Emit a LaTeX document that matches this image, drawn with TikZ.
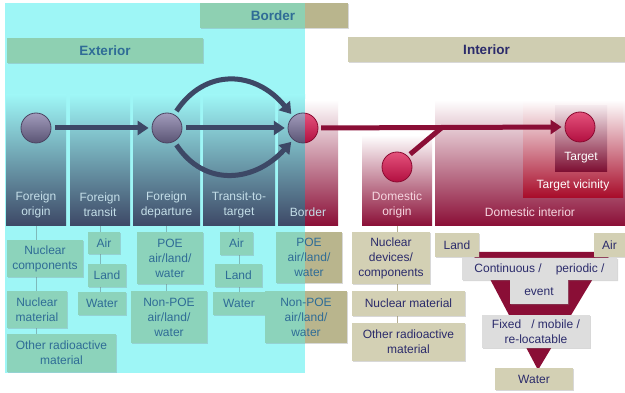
\documentclass[tikz,border=0pt]{standalone}
\usepackage{fontspec}
\setmainfont{Liberation Sans}
\usetikzlibrary{arrows.meta,shadows}
\definecolor{cyanbg}{HTML}{9EF6F6}
\definecolor{hdrteal}{HTML}{8ED0B2}
\definecolor{hdrkhaki}{HTML}{CFCDB1}
\definecolor{brdkhaki}{HTML}{B9B58D}
\definecolor{slate}{HTML}{3D4866}
\definecolor{wine}{HTML}{8A0E36}
\definecolor{tealbox}{HTML}{8CD3BB}
\definecolor{tealtext}{HTML}{2F6C96}
\definecolor{khakibox}{HTML}{D3D0B4}
\definecolor{navytext}{HTML}{2B2B6B}
\definecolor{greybox}{HTML}{DDDDDD}
\definecolor{coltext}{HTML}{C4DEE8}
\definecolor{redtext}{HTML}{F6D6E0}
\definecolor{treeline}{HTML}{7FB9BA}
\definecolor{treeline2}{HTML}{B5AE92}
\definecolor{slatetop}{HTML}{A29CBC}
\definecolor{slatebot}{HTML}{5A5474}
\definecolor{ballrim}{HTML}{4B4462}
\definecolor{redtop}{HTML}{E4527C}
\definecolor{redbot}{HTML}{B20F40}
\definecolor{redrim}{HTML}{8A0A30}
\begin{document}
\begin{tikzpicture}[x=1pt,y=-1pt,
  shd/.style={drop shadow={shadow xshift=1.2pt,shadow yshift=-1.2pt,opacity=0.3,fill=black!50}},
  lbl/.style={font=\fontsize{12}{15}\selectfont, align=center, inner sep=0pt},
  hdr/.style={font=\fontsize{13.5}{16}\selectfont\bfseries, inner sep=0pt},
  tbox/.style={lbl, fill=tealbox, text=tealtext, shd},
  kbox/.style={lbl, fill=khakibox, text=navytext, shd},
  gtext/.style={lbl, text=navytext},
  slatecol/.style={draw=none, inner sep=0pt, top color=cyanbg, middle color=slate!30!cyanbg, bottom color=slate},
  redcol/.style={draw=none, inner sep=0pt, top color=white, middle color=wine!35!white, bottom color=wine},
  coltxt/.style={lbl, text=coltext},
  redtxt/.style={lbl, text=redtext},
  ball/.style={circle, minimum size=30pt, inner sep=0pt},
  sball/.style={ball, top color=slatetop, bottom color=slatebot, draw=ballrim, line width=0.8pt},
  rball/.style={ball, top color=redtop, bottom color=redbot, draw=redrim, line width=0.8pt},
  sarrow/.style={draw=slate, line width=5pt, -{Triangle[length=11pt,width=14pt]}, shorten <=4pt, shorten >=3pt},
  rarrow/.style={draw=wine, line width=5pt, -{Triangle[length=11pt,width=14pt]}, shorten <=3pt, shorten >=3pt},
  tline/.style={draw=treeline, line width=0.8pt},
  tline2/.style={draw=treeline2, line width=0.8pt}
]
\useasboundingbox (0,0) rectangle (625,393);
\fill[white] (0,0) rectangle (625,393);
% cyan exterior background
\fill[cyanbg] (5,3) rectangle (305,373);

% headers
\fill[hdrteal,shd] (200,3) rectangle (348,28);
\fill[brdkhaki] (305,3) rectangle (348,28);
\node[hdr, text=tealtext] (hBorder) at (273,15.5) {Border};
\node[hdr, fill=hdrteal, text=tealtext, minimum width=196pt, minimum height=25pt, shd] (hExt) at (105,50.5) {Exterior};
\node[hdr, fill=hdrkhaki, text=navytext, minimum width=277pt, minimum height=25pt, shd] (hInt) at (486.5,49.5) {Interior};

% columns
\node[slatecol, minimum width=60pt, minimum height=131pt] (cFO) at (36,160.5) {};
\node[slatecol, minimum width=60pt, minimum height=131pt] (cFT) at (100,160.5) {};
\node[slatecol, minimum width=67pt, minimum height=131pt] (cFD) at (166.5,160.5) {};
\node[slatecol, minimum width=72pt, minimum height=131pt] (cTT) at (239,160.5) {};
\node[slatecol, minimum width=27pt, minimum height=131pt] (cBL) at (291.5,160.5) {};
\node[redcol, minimum width=33pt, minimum height=126pt] (cBR) at (321.5,163) {};
\node[redcol, minimum width=70pt, minimum height=91pt] (cDO) at (397,180.5) {};
\node[redcol, minimum width=190pt, minimum height=126pt] (cDI) at (530,163) {};
\node[draw=none, inner sep=0pt, top color=white, middle color=wine!45!white, bottom color=wine!75!red, minimum width=100pt, minimum height=98pt] (cTV) at (573,149) {};
\node[draw=none, inner sep=0pt, top color=wine!10!white, middle color=wine!65!white, bottom color=wine!90!black, minimum width=52pt, minimum height=66pt] (cTG) at (581,139) {};

% column labels
\node[coltxt] (lFO) at (36,205) {Foreign\\origin};
\node[coltxt] (lFT) at (100,205) {Foreign\\transit};
\node[coltxt] (lFD) at (166.5,205) {Foreign\\departure};
\node[coltxt] (lTT) at (239,205) {Transit-to-\\target};
\node[coltxt] (lBD) at (308,212) {Border};
\node[redtxt] (lDO) at (397,205) {Domestic\\origin};
\node[redtxt] (lDI) at (530,212) {Domestic interior};
\node[lbl, text=white] (lTV) at (573,185) {Target vicinity};
\node[lbl, text=white] (lTG) at (581,158) {Target};

% balls
\node[sball] (fo) at (36,128) {};
\node[sball] (fd) at (167,128) {};
\node[ball] (bd) at (303,128) {};
\begin{scope}
  \clip (280,105) rectangle (305,150);
  \shade[top color=slatetop, bottom color=slatebot] (bd.center) circle (15);
  \draw[ballrim, line width=0.8pt] (bd.center) circle (15);
\end{scope}
\begin{scope}
  \clip (305,105) rectangle (330,150);
  \shade[top color=redtop, bottom color=redbot] (bd.center) circle (15);
  \draw[redrim, line width=0.8pt] (bd.center) circle (15);
\end{scope}
\node[rball] (do) at (397,167) {};
\node[rball] (tg) at (580,127) {};
\coordinate (j) at (442,127.5);

% arrows
\draw[sarrow] (fo.east) -- (fd.west);
\draw[sarrow] (fd.east) -- (bd.west);
\draw[sarrow] (fd.62) .. controls (205,68) and (255,70) .. (bd.130);
\draw[sarrow] (fd.-62) .. controls (205,188) and (255,182) .. (bd.-130);
\draw[rarrow] (bd.east) -- (tg.west);
\draw[draw=wine, line width=5pt, shorten <=3pt] (do.45) -- (j);

% exterior trees
\draw[tline] (cFO.south) -- (cFO.south |- 0,334);
\draw[tline] (cFT.south) -- (cFT.south |- 0,292);
\draw[tline] (cFD.south) -- (cFD.south |- 0,291);
\draw[tline] (cTT.south) -- (cTT.south |- 0,292);
\draw[tline2] (cDO.south) -- (cDO.south |- 0,324);

\node[tbox, minimum width=76pt, minimum height=37pt] (fo1) at (45,258.5) {Nuclear\\components};
\node[tbox, minimum width=60pt, minimum height=37pt] (fo2) at (37,309.5) {Nuclear\\material};
\node[tbox, minimum width=109pt, minimum height=38pt] (fo3) at (61.5,353) {Other radioactive\\material};

\node[tbox, minimum width=32pt, minimum height=22pt] (ft1) at (104,243) {Air};
\node[tbox, minimum width=38pt, minimum height=23pt] (ft2) at (107,275.5) {Land};
\node[tbox, minimum width=48pt, minimum height=23pt] (ft3) at (102,303.5) {Water};

\node[tbox, minimum width=66pt, minimum height=52pt] (fd1) at (170,258) {POE\\air/land/\\water};
\node[tbox, minimum width=76pt, minimum height=52pt] (fd2) at (169,317) {Non-POE\\air/land/\\water};

\node[tbox, minimum width=33pt, minimum height=23pt] (tt1) at (236.5,243.5) {Air};
\node[tbox, minimum width=47pt, minimum height=23pt] (tt2) at (238.5,275.5) {Land};
\node[tbox, minimum width=52pt, minimum height=23pt] (tt3) at (239,303.5) {Water};

% border boxes (split colour)
\fill[tealbox,shd] (276,232) rectangle (342,283);
\fill[brdkhaki] (305,232) rectangle (342,283);
\fill[tealbox,shd] (265,291) rectangle (347,343);
\fill[brdkhaki] (305,291) rectangle (347,343);
\node[lbl, text=tealtext] (bd1) at (309,257.5) {POE\\air/land/\\water};
\node[lbl, text=tealtext] (bd2) at (306,317) {Non-POE\\air/land/\\water};

% domestic origin tree
\node[kbox, minimum width=78pt, minimum height=52pt] (do1) at (391,258) {Nuclear\\devices/\\components};
\node[kbox, minimum width=113pt, minimum height=25pt] (do2) at (408.5,303.5) {Nuclear material};
\node[kbox, minimum width=113pt, minimum height=38pt] (do3) at (408.5,342) {Other radioactive\\material};

% funnel
\fill[wine] (467,252) -- (615,252) -- (603,262) -- (538,370) -- (481,262) -- cycle;
\node[kbox, minimum width=44pt, minimum height=24pt] (di1) at (457,245) {Land};
\node[kbox, minimum width=31pt, minimum height=24pt] (di2) at (609.5,245) {Air};
\fill[greybox,shd] (462,258) -- (617,258) -- (617,280) -- (568,280) -- (568,304) -- (510,304) -- (510,280) -- (462,280) -- cycle;
\node[gtext] (di3) at (539.5,269) {Continuous /\hspace{14pt}periodic /};
\node[gtext] (di4) at (539,292) {event};
\node[lbl, fill=greybox, text=navytext, shd, minimum width=108pt, minimum height=33pt] (di5) at (536,331.5) {Fixed\hspace{10pt}/ mobile /\\re-locatable};
\node[kbox, minimum width=78pt, minimum height=22pt] (di6) at (534,379) {Water};
\end{tikzpicture}
\end{document}
